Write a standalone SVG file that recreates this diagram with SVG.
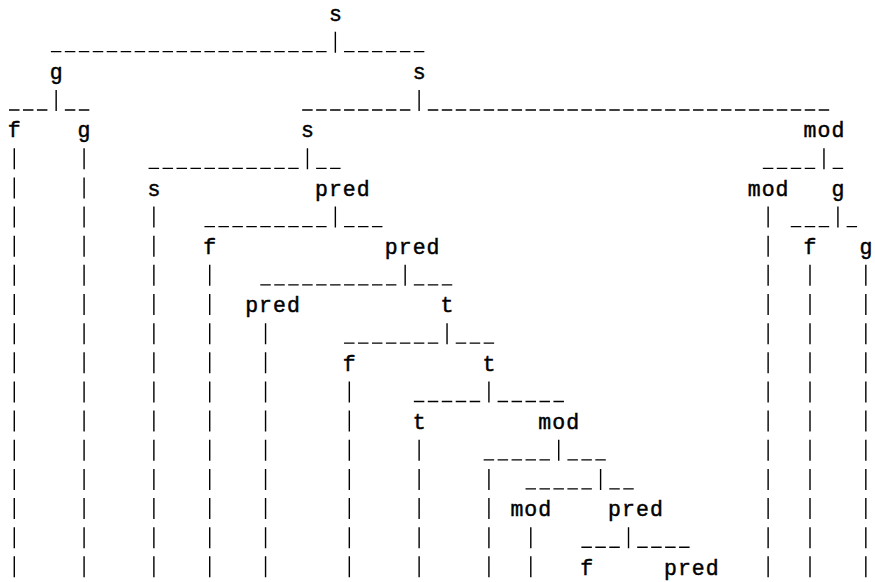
<svg xmlns="http://www.w3.org/2000/svg" width="875" height="582" viewBox="0 0 875 582">
  <style>
    .lbl { font-family: "Liberation Mono", "DejaVu Sans Mono", monospace; font-size: 21.5px; letter-spacing: 1.06px; fill: #000; stroke: #000; stroke-width: 0.45; }
    .us { fill: none; stroke: #000; stroke-width: 1.3; stroke-dasharray: 10.5 3.46; }
    .bar { fill: none; stroke: #000; stroke-width: 1.4; }
    .run { fill: none; stroke: #000; stroke-width: 1.4; stroke-dasharray: 21 8.15; }
  </style>
  <rect width="875" height="582" fill="#fff"/>

  <!-- tree labels, 13.96px character grid, 29.15px rows -->
  <g id="n-root"><text class="lbl" x="328.9" y="20.7">s</text></g>
  <g id="n-g1"><text class="lbl" x="49.7" y="79">g</text></g>
  <g id="n-s1"><text class="lbl" x="412.66" y="79">s</text></g>
  <g id="n-f1"><text class="lbl" x="7.82" y="137.3">f</text></g>
  <g id="n-g2"><text class="lbl" x="77.62" y="137.3">g</text></g>
  <g id="n-s2"><text class="lbl" x="300.98" y="137.3">s</text></g>
  <g id="n-mod1"><text class="lbl" x="803.54" y="137.3">mod</text></g>
  <g id="n-s3"><text class="lbl" x="147.42" y="195.6">s</text></g>
  <g id="n-pred1"><text class="lbl" x="314.94" y="195.6">pred</text></g>
  <g id="n-mod2"><text class="lbl" x="747.7" y="195.6">mod</text></g>
  <g id="n-g3"><text class="lbl" x="831.46" y="195.6">g</text></g>
  <g id="n-f2"><text class="lbl" x="203.26" y="253.9">f</text></g>
  <g id="n-pred2"><text class="lbl" x="384.74" y="253.9">pred</text></g>
  <g id="n-f3"><text class="lbl" x="803.54" y="253.9">f</text></g>
  <g id="n-g4"><text class="lbl" x="859.38" y="253.9">g</text></g>
  <g id="n-pred3"><text class="lbl" x="245.14" y="312.2">pred</text></g>
  <g id="n-t1"><text class="lbl" x="440.58" y="312.2">t</text></g>
  <g id="n-f4"><text class="lbl" x="342.86" y="370.5">f</text></g>
  <g id="n-t2"><text class="lbl" x="482.46" y="370.5">t</text></g>
  <g id="n-t3"><text class="lbl" x="412.66" y="428.8">t</text></g>
  <g id="n-mod3"><text class="lbl" x="538.3" y="428.8">mod</text></g>
  <g id="n-mod4"><text class="lbl" x="510.38" y="516.25">mod</text></g>
  <g id="n-pred4"><text class="lbl" x="608.1" y="516.25">pred</text></g>
  <g id="n-f5"><text class="lbl" x="580.18" y="574.55">f</text></g>
  <g id="n-pred5"><text class="lbl" x="663.94" y="574.55">pred</text></g>

  <g id="connectors">
    <!-- underscore runs -->
    <path class="us" d="M50.88 51.7h275.74M344.04 51.7h80.3"/>
    <path class="us" d="M9 110h38.42M64.84 110h24.46M302.16 110h108.22M427.8 110h401.38"/>
    <path class="us" d="M148.6 168.3h150.1M316.12 168.3h24.46M762.84 168.3h52.38M832.64 168.3h10.5"/>
    <path class="us" d="M204.44 226.6h122.18M344.04 226.6h38.42M790.76 226.6h38.42M846.6 226.6h10.5"/>
    <path class="us" d="M260.28 284.9h136.14M413.84 284.9h38.42"/>
    <path class="us" d="M344.04 343.2h94.26M455.72 343.2h38.42"/>
    <path class="us" d="M413.84 401.5h66.34M497.6 401.5h66.34"/>
    <path class="us" d="M483.64 459.8h66.34M567.4 459.8h38.42"/>
    <path class="us" d="M525.52 488.95h66.34M609.28 488.95h24.46"/>
    <path class="us" d="M581.36 547.25h38.42M637.2 547.25h52.38"/>

    <!-- parent stems -->
    <path class="bar" d="M335.36 31.65v21M56.16 89.95v21M419.12 89.95v21M307.44 148.25v21M823.96 148.25v21M335.36 206.55v21M837.92 206.55v21M405.16 264.85v21M447.04 323.15v21M488.92 381.45v21M558.72 439.75v21M600.6 468.9v21M628.52 527.2v21"/>

    <!-- leaf drop lines to the bottom row -->
    <path class="run" d="M14.28 148.25V577.35M84.08 148.25V577.35M153.88 206.55V577.35M209.72 264.85V577.35M265.56 323.15V577.35M349.32 381.45V577.35M419.12 439.75V577.35M488.92 468.9V577.35M530.8 527.2V577.35M768.12 206.55V577.35M810 264.85V577.35M865.84 264.85V577.35"/>
  </g>
</svg>
